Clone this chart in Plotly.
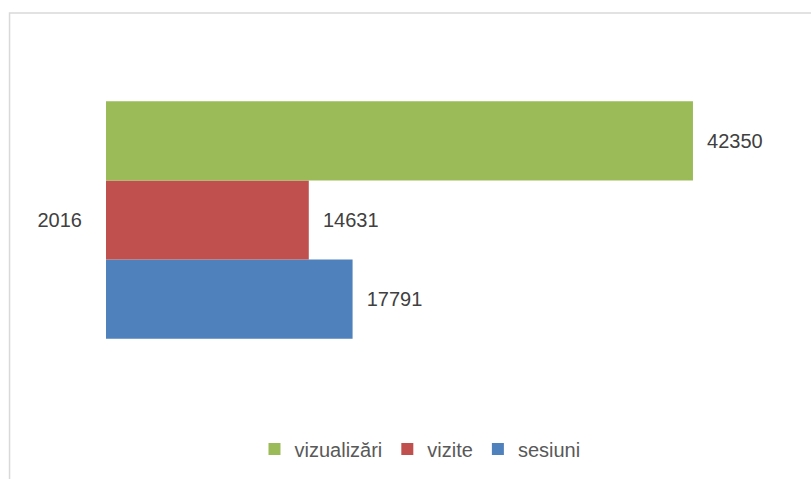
import plotly.graph_objects as go

categories = ["2016"]
series_names = ["vizualizări", "vizite", "sesiuni"]
vizualizari = [42350]
vizite = [14631]
sesiuni = [17791]

colors = {"vizualizări": "#9bbb59", "vizite": "#c0504d", "sesiuni": "#4f81bd"}
values = {"vizualizări": vizualizari, "vizite": vizite, "sesiuni": sesiuni}

FONT = "Liberation Sans, Arial, sans-serif"
FS = 20
W, H = 811, 479
L, T = 105.5, 21.75
PW = 693.27
PH = 396.2
R = W - L - PW
B = H - T - PH

fig = go.Figure()
# bottom-to-top drawing order: sesiuni, vizite, vizualizări
for name in reversed(series_names):
    fig.add_trace(go.Bar(
        y=categories, x=values[name], name=name, orientation="h",
        marker=dict(color=colors[name], line=dict(width=0)),
        texttemplate="\u00a0\u00a0%{x:d}",
        textposition="outside", cliponaxis=False,
        textfont=dict(family=FONT, size=FS, color="#404040"),
    ))

def px_to_paper_x(px):
    return (px - L) / PW

def px_to_paper_y(py):
    return (T + PH - py) / PH

fig.add_shape(type="rect", xref="paper", yref="paper",
              x0=px_to_paper_x(9), x1=px_to_paper_x(820),
              y0=px_to_paper_y(490), y1=px_to_paper_y(12.7),
              line=dict(color="#d9d9d9", width=1.5), fillcolor="rgba(0,0,0,0)",
              layer="below")

fig.update_layout(
    width=W, height=H,
    margin=dict(l=L, r=R, t=T, b=B, pad=0),
    paper_bgcolor="white", plot_bgcolor="white",
    barmode="group", bargap=0.4, bargroupgap=0,
    showlegend=True,
    legend=dict(orientation="h", traceorder="reversed",
                xref="container", yref="container",
                x=420 / W, xanchor="center",
                y=1 - 449 / H, yanchor="middle",
                font=dict(family=FONT, size=FS, color="#595959"),
                itemwidth=30, bgcolor="rgba(0,0,0,0)"),
    xaxis=dict(range=[0, 50000], showgrid=False, zeroline=False,
               showticklabels=False, showline=False, ticks=""),
    yaxis=dict(range=[-0.5, 0.5], showgrid=False, zeroline=False, showline=False,
               ticks="", ticklabelstandoff=23,
               tickfont=dict(family=FONT, size=FS, color="#404040")),
    font=dict(family=FONT),
)

fig.write_html("out.html", config={"displayModeBar": False},
               post_script="document.body.style.margin='0';")
